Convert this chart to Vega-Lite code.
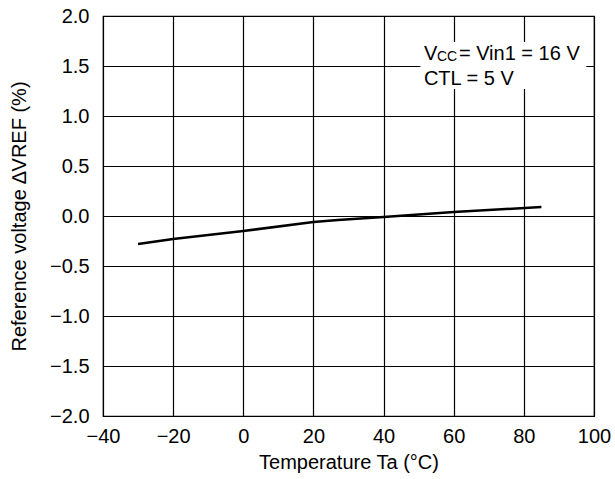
{
  "$schema": "https://vega.github.io/schema/vega-lite/v6.json",
  "width": 491,
  "height": 400,
  "autosize": "none",
  "padding": {"left": 103, "top": 16, "right": 21, "bottom": 63},
  "background": "white",
  "config": {
    "font": "Liberation Sans",
    "view": {"stroke": "black", "strokeWidth": 1.2}
  },
  "layer": [
    {
      "data": {"values": [
        {"t": -30, "v": -0.28},
        {"t": -20, "v": -0.23},
        {"t": 0, "v": -0.15},
        {"t": 20, "v": -0.06},
        {"t": 27, "v": -0.04},
        {"t": 40, "v": -0.01},
        {"t": 60, "v": 0.04},
        {"t": 85, "v": 0.09}
      ]},
      "mark": {"type": "line", "color": "black", "strokeWidth": 2.5},
      "encoding": {
        "x": {
          "field": "t", "type": "quantitative",
          "scale": {"domain": [-40, 100], "nice": false},
          "axis": {
            "values": [-40, -20, 0, 20, 40, 60, 80, 100],
            "title": "Temperature Ta (°C)",
            "titleFont": "Liberation Sans", "titleFontSize": 20, "titleFontWeight": "normal", "titleColor": "black", "titlePadding": 6,
            "labelFontSize": 20, "labelColor": "black", "labelPadding": 10, "labelFlush": false,
            "labelExpr": "replace(format(datum.value, 'd'), '-', '–')",
            "domain": false, "ticks": false,
            "grid": true, "gridColor": "black", "gridOpacity": 1, "gridWidth": 1.2
          }
        },
        "y": {
          "field": "v", "type": "quantitative",
          "scale": {"domain": [-2, 2], "nice": false},
          "axis": {
            "values": [-2, -1.5, -1, -0.5, 0, 0.5, 1, 1.5, 2],
            "title": "Reference voltage ∆VREF (%)",
            "titleFontSize": 20, "titleFontWeight": "normal", "titleColor": "black", "titlePadding": 20,
            "labelFontSize": 20, "labelColor": "black", "labelPadding": 14, "labelFlush": false,
            "labelExpr": "replace(format(datum.value, '.1f'), '-', '–')",
            "domain": false, "ticks": false,
            "grid": true, "gridColor": "black", "gridOpacity": 1, "gridWidth": 1.2
          }
        }
      }
    },
    {
      "data": {"values": [{"x1": 50.5, "x2": 97.8, "y1": 1.27, "y2": 1.74}]},
      "mark": {"type": "rect", "fill": "white"},
      "encoding": {
        "x": {"field": "x1", "type": "quantitative"},
        "x2": {"field": "x2"},
        "y": {"field": "y1", "type": "quantitative"},
        "y2": {"field": "y2"}
      }
    },
    {
      "data": {"values": [
        {"x": 51.5, "y": 1.62, "label": "V", "part": "big"},
        {"x": 51.5, "y": 1.62, "label": "CC", "part": "small"},
        {"x": 51.5, "y": 1.62, "label": "= Vin1 = 16 V", "part": "rest"},
        {"x": 51.5, "y": 1.37, "label": "CTL = 5 V", "part": "big"}
      ]},
      "layer": [
        {
          "transform": [{"filter": "datum.part == 'big'"}],
          "mark": {"type": "text", "align": "left", "baseline": "middle", "fontSize": 20, "color": "black"},
          "encoding": {"x": {"field": "x", "type": "quantitative"}, "y": {"field": "y", "type": "quantitative"}, "text": {"field": "label"}}
        },
        {
          "transform": [{"filter": "datum.part == 'small'"}],
          "mark": {"type": "text", "align": "left", "baseline": "alphabetic", "fontSize": 14, "color": "black", "dx": 13, "dy": 7},
          "encoding": {"x": {"field": "x", "type": "quantitative"}, "y": {"field": "y", "type": "quantitative"}, "text": {"field": "label"}}
        },
        {
          "transform": [{"filter": "datum.part == 'rest'"}],
          "mark": {"type": "text", "align": "left", "baseline": "middle", "fontSize": 20, "color": "black", "dx": 35},
          "encoding": {"x": {"field": "x", "type": "quantitative"}, "y": {"field": "y", "type": "quantitative"}, "text": {"field": "label"}}
        }
      ]
    }
  ]
}
